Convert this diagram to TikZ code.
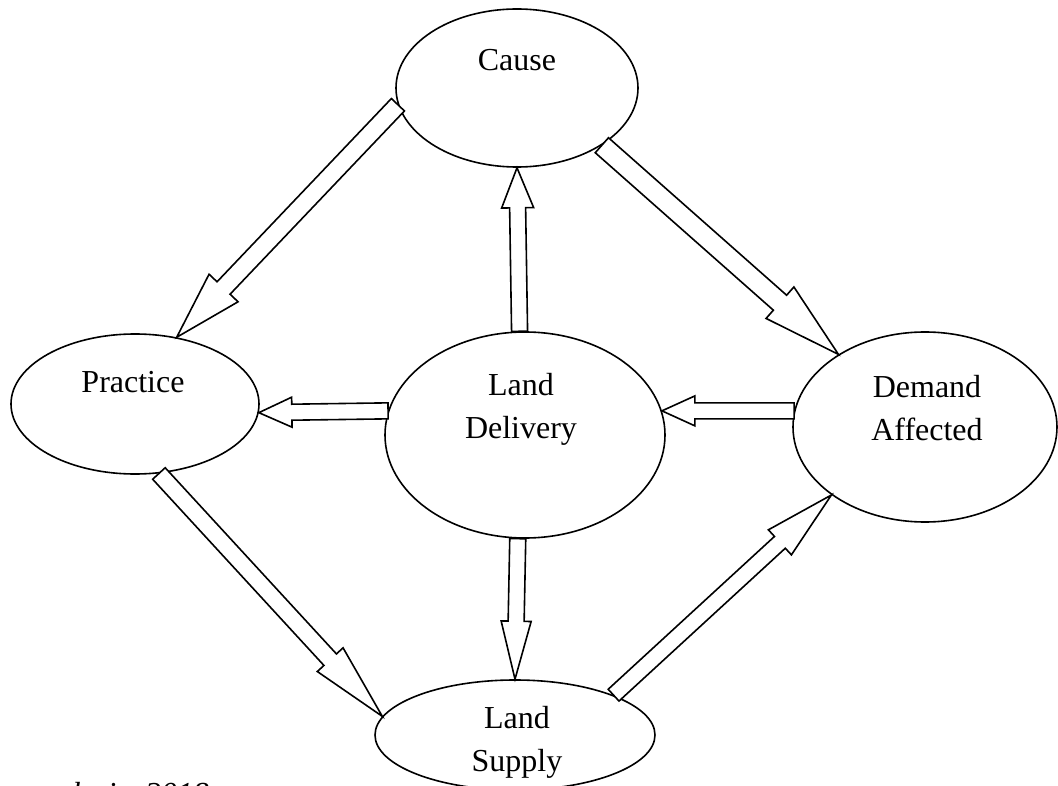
\documentclass[tikz,border=0pt]{standalone}
\usepackage{fontspec}
\setmainfont{Liberation Serif}
\usetikzlibrary{shapes.geometric,calc}
\tikzset{
  oval/.style={draw, ellipse, line width=1.6pt, inner sep=0pt},
  lbl/.style={font=\fontsize{32}{43}\selectfont, align=center, inner sep=0pt},
  barrow/.style={draw, line width=1.6pt, line join=miter, fill=white}
}
\newcommand\blockarr[5]{%
  \coordinate (ba-h) at ($(#2)!#5!(#1)$);
  \draw[barrow] ($(#1)!#3!90:(#2)$) -- ($(ba-h)!#3!-90:(#1)$) -- ($(ba-h)!#4!-90:(#1)$) -- (#2)
    -- ($(ba-h)!#4!90:(#1)$) -- ($(ba-h)!#3!90:(#1)$) -- ($(#1)!#3!-90:(#2)$) -- cycle;
}
\begin{document}
\begin{tikzpicture}[x=1pt,y=-1pt]
\useasboundingbox (0,0) rectangle (1058,786);
\fill[white] (0,0) rectangle (1058,786);
% ovals
\node[oval, minimum width=242pt, minimum height=158pt] (cause) at (517,88) {};
\node[oval, minimum width=248pt, minimum height=140pt] (practice) at (135,404) {};
\node[oval, minimum width=264pt, minimum height=190pt] (demand) at (925,427) {};
\node[oval, minimum width=280pt, minimum height=206pt] (delivery) at (525,435) {};
\node[oval, minimum width=280pt, minimum height=110pt] (supply) at (515,735) {};
% labels
\node[lbl] (causeT) at (517,60) {Cause};
\node[lbl] (practiceT) at (133,382) {Practice};
\node[lbl] (demandT) at (927,408) {Demand\\Affected};
\node[lbl] (deliveryT) at (521,409) {Land\\Delivery};
\node[lbl] (supplyT) at (517,742) {Land\\Supply};
\node[font=\fontsize{32}{38}\selectfont\itshape, anchor=base east, inner sep=0pt] (src) at (209,804) {analysis, 2018};
% arrows
\blockarr{cause.188}{practice.58}{9pt}{20pt}{68pt}
\blockarr{cause.-34}{demand.140}{10pt}{21pt}{78pt}
\blockarr{delivery.93}{cause.south}{8pt}{16pt}{40pt}
\blockarr{delivery.266}{supply.north}{8pt}{15pt}{58pt}
\blockarr{delivery.170}{practice.-4}{8pt}{15pt}{33pt}
\blockarr{demand.173}{delivery.10}{8pt}{15pt}{33pt}
\blockarr{practice.-71}{supply.172}{8.5pt}{17.5pt}{77pt}
\blockarr{supply.22}{demand.216}{8pt}{17pt}{70pt}
\end{tikzpicture}
\end{document}
